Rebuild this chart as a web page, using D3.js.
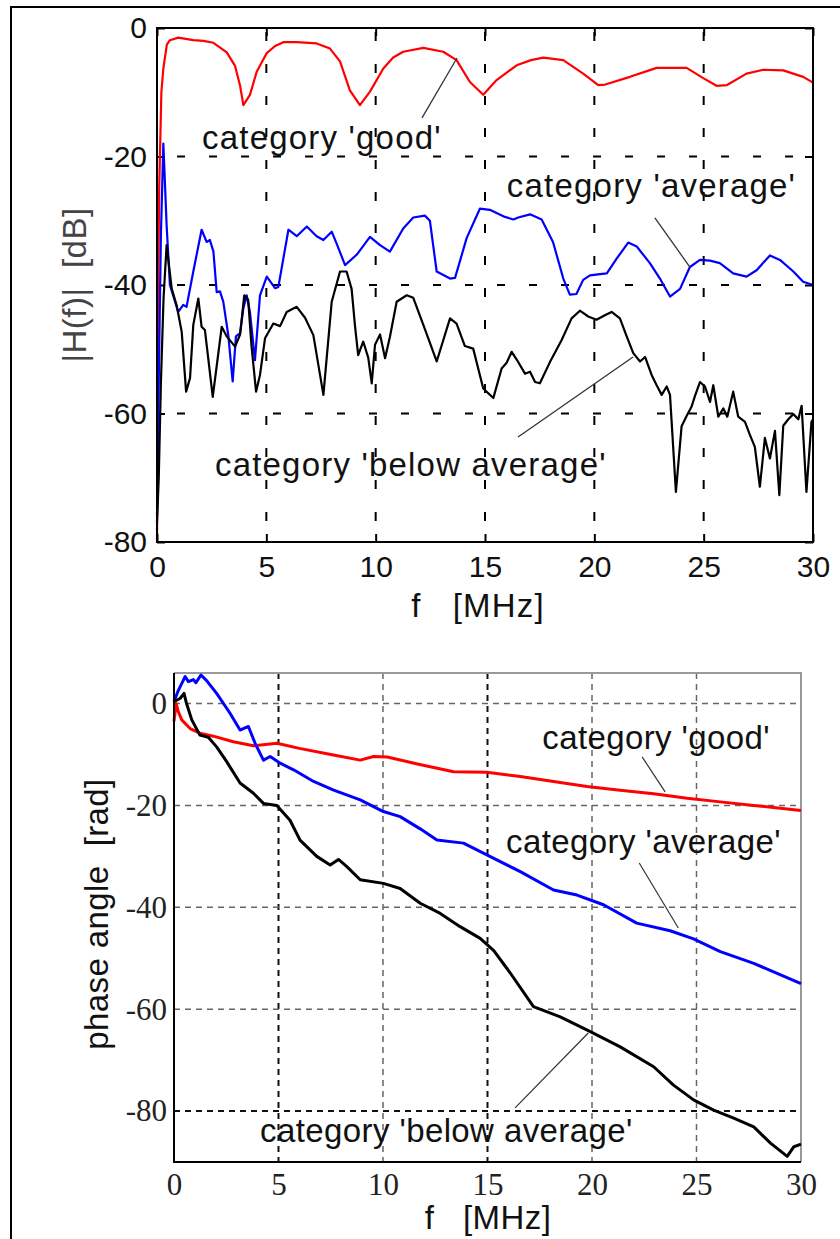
<!DOCTYPE html>
<html><head><meta charset="utf-8">
<script src="https://cdn.jsdelivr.net/npm/d3@7"></script>
<style>body{margin:0;background:#fff;} svg{display:block}</style>
</head><body>
<svg id="c" width="840" height="1239"></svg>
<script>
// ---------- DATA ----------
const xTickValues = [0, 5, 10, 15, 20, 25, 30];
const magTickValues = [0, -20, -40, -60, -80];
const phaseTickValues = [0, -20, -40, -60, -80];
const seriesNames = ["category 'good'", "category 'average'", "category 'below average'"];

// |H(f)| [dB] vs f [MHz]
const magGood = [[0,-80],[0.04,-45],[0.1,-25],[0.2,-10],[0.29,-6.3],[0.45,-2.6],[0.59,-1.9],[0.97,-1.5],[1.66,-1.9],[2.12,-2.0],[2.58,-2.3],[3.19,-3.8],[3.57,-5.9],[3.8,-9],[3.95,-12.0],[4.25,-10.4],[4.56,-6.8],[5.02,-3.9],[5.4,-2.8],[5.78,-2.2],[6.39,-2.2],[7.30,-2.4],[7.91,-3.2],[8.37,-5.2],[8.82,-9.7],[9.28,-12.0],[9.74,-9.9],[10.35,-6.3],[10.8,-4.6],[11.26,-3.7],[12.18,-3.1],[13.09,-3.7],[13.70,-5.0],[14.31,-8.4],[14.92,-10.4],[15.53,-8.1],[16.45,-5.8],[17.1,-5.0],[17.66,-4.6],[18.58,-5.0],[19.49,-7.1],[20.18,-8.9],[20.5,-8.8],[21.63,-7.6],[22.85,-6.2],[24.22,-6.2],[24.98,-7.8],[25.59,-9.0],[26.05,-8.9],[26.96,-7.1],[27.73,-6.5],[28.64,-6.6],[29.55,-7.6],[30,-8.5]];
const magAverage = [[0,-76],[0.08,-55],[0.18,-32],[0.29,-18],[0.44,-30.7],[0.59,-40],[0.97,-44.2],[1.2,-43.1],[1.35,-43.4],[1.66,-37.9],[2.04,-31.4],[2.27,-33.3],[2.42,-33.0],[2.58,-34.8],[2.73,-41.1],[2.88,-41.0],[3.03,-42.6],[3.26,-47.8],[3.46,-55.0],[3.61,-48.0],[3.8,-47.5],[3.95,-43.6],[4.1,-41.6],[4.25,-44.2],[4.48,-51.7],[4.71,-41.6],[5.02,-38.7],[5.4,-40.5],[5.55,-40.3],[6.01,-31.4],[6.39,-32.4],[6.85,-30.9],[7.3,-32.4],[7.61,-33.0],[7.99,-31.7],[8.22,-33.6],[8.6,-36.9],[9.13,-35.3],[9.74,-32.5],[10.2,-33.8],[10.65,-34.8],[11.26,-31.2],[11.72,-29.5],[12.25,-29.2],[12.48,-30.0],[12.79,-37.9],[13.4,-39.0],[13.63,-38.9],[14.16,-32.7],[14.77,-28.1],[15.22,-28.3],[15.91,-29.4],[16.3,-29.8],[16.52,-29.5],[17.06,-29.0],[17.59,-29.8],[18.11,-33.3],[18.58,-39.0],[18.88,-41.5],[19.18,-41.4],[19.49,-39.2],[19.8,-38.5],[20.26,-38.3],[20.57,-38.2],[21.02,-35.9],[21.55,-33.4],[21.94,-34.0],[22.54,-36.6],[23.0,-39.0],[23.46,-41.8],[23.92,-40.6],[24.37,-37.2],[24.83,-36.1],[25.29,-36.2],[25.74,-36.6],[26.35,-38.2],[26.96,-38.7],[27.42,-37.7],[28.03,-35.4],[28.49,-36.1],[29.1,-37.9],[29.55,-39.5],[30,-40.0]];
const magBelow = [[0,-77],[0.08,-70],[0.18,-55],[0.3,-42],[0.44,-33.8],[0.67,-40.5],[0.9,-43.2],[1.13,-47.3],[1.33,-56.6],[1.51,-54.5],[1.66,-46.2],[1.89,-42.1],[2.04,-46.5],[2.19,-47.0],[2.55,-57.4],[2.96,-46.5],[3.19,-48.0],[3.57,-49.6],[3.8,-47.7],[3.99,-41.6],[4.17,-42.3],[4.32,-49.4],[4.53,-56.6],[4.71,-54.0],[4.94,-48.3],[5.32,-46.0],[5.63,-46.4],[5.93,-44.2],[6.39,-43.4],[6.77,-45.1],[7.15,-47.8],[7.61,-57.1],[7.99,-42.6],[8.37,-37.9],[8.67,-37.9],[8.9,-40.6],[9.05,-46.2],[9.2,-50.9],[9.43,-48.8],[9.66,-51.3],[9.82,-55.3],[9.97,-49.3],[10.2,-47.7],[10.43,-51.4],[10.65,-48.1],[10.96,-42.6],[11.42,-41.6],[11.72,-42.0],[12.18,-46.2],[12.79,-51.9],[13.4,-45.2],[13.7,-46.0],[14.08,-49.5],[14.46,-49.9],[14.92,-56.1],[15.38,-57.6],[15.76,-53.0],[15.99,-52.1],[16.22,-50.4],[16.45,-51.6],[16.83,-53.8],[17.06,-53.5],[17.29,-55.1],[17.51,-55.3],[17.97,-52.0],[18.5,-48.6],[18.96,-45.2],[19.34,-44.0],[19.72,-44.9],[20.1,-45.4],[20.48,-44.7],[20.79,-44.2],[21.17,-45.2],[21.48,-48.0],[21.78,-50.6],[22.09,-51.9],[22.32,-51.2],[22.62,-54.0],[22.85,-55.6],[23.08,-57.1],[23.31,-55.8],[23.46,-57.1],[23.73,-72.2],[23.99,-62.0],[24.22,-60.4],[24.45,-58.9],[24.6,-57.3],[24.83,-55.1],[25.06,-55.8],[25.29,-58.2],[25.44,-55.6],[25.67,-60.5],[25.9,-59.2],[26.08,-60.5],[26.35,-56.6],[26.58,-60.5],[26.89,-61.3],[27.11,-63.3],[27.34,-65.2],[27.57,-71.4],[27.8,-63.8],[28.03,-67.0],[28.26,-62.7],[28.46,-72.7],[28.64,-61.9],[28.87,-60.9],[29.1,-60.1],[29.33,-60.9],[29.48,-58.8],[29.7,-72.2],[29.93,-61.3],[30,-60.9]];

// phase angle [rad] vs f [MHz]
const phaseGood = [[0,-3.5],[0.1,0],[0.2,-1.5],[0.37,-3.2],[0.77,-4.9],[1.24,-5.8],[1.88,-6.4],[2.84,-7.5],[3.8,-8.3],[4.92,-7.8],[6.0,-8.8],[7.63,-10.1],[8.91,-11.1],[9.55,-10.4],[10.2,-10.5],[11.7,-11.9],[13.38,-13.4],[14.97,-13.5],[16.57,-14.3],[18.16,-15.3],[19.76,-16.3],[21.35,-17.0],[22.95,-17.7],[24.55,-18.6],[26.14,-19.3],[27.74,-20.0],[30,-21.0]];
const phaseAverage = [[0,0.4],[0.2,2.5],[0.53,5.3],[0.69,4.3],[0.93,4.7],[1.05,4.1],[1.29,5.6],[1.56,4.5],[2.04,2.0],[2.68,-1.9],[3.16,-5.2],[3.56,-4.5],[3.88,-7.8],[4.28,-11.1],[4.6,-10.4],[5.08,-11.7],[5.72,-13.0],[6.68,-15.3],[7.64,-17.0],[8.91,-18.9],[10.02,-21.2],[10.82,-22.2],[11.78,-24.6],[12.58,-26.8],[13.85,-27.4],[14.97,-29.7],[16.57,-33.0],[18.16,-36.6],[19.28,-37.6],[20.55,-39.5],[22.14,-43.1],[23.74,-44.6],[24.86,-46.2],[26.14,-48.7],[27.74,-51.0],[30,-55.0]];
const phaseBelow = [[0,0.4],[0.29,1.0],[0.48,2.0],[0.6,0],[0.85,-3.2],[1.24,-6.2],[1.64,-6.6],[2.04,-8.5],[2.52,-11.4],[3.16,-15.6],[3.8,-17.6],[4.28,-19.6],[4.92,-20.0],[5.55,-22.9],[6.03,-26.8],[6.83,-30.0],[7.47,-31.7],[7.87,-30.6],[8.27,-32.0],[8.91,-34.6],[10.02,-35.3],[10.82,-36.3],[11.78,-39.2],[12.74,-41.2],[13.69,-43.8],[14.65,-46.1],[15.3,-48.5],[16.09,-52.9],[17.2,-59.5],[18.48,-61.5],[19.92,-64.4],[21.35,-67.4],[22.95,-71.3],[23.9,-74.9],[24.86,-77.8],[25.82,-79.8],[26.78,-81.4],[27.74,-83.1],[28.54,-86.3],[29.34,-88.9],[29.66,-87.0],[30,-86.5]];

// annotation anchors (data units): text start, leader line from -> to
const magNotes = [
  {text: seriesNames[0], at: [2.06, -18.8], line: [[12.12,-14.0],[13.72,-4.67]]},
  {text: seriesNames[1], at: [16.0, -26.3], line: [[22.77,-29.57],[24.37,-37.2]]},
  {text: seriesNames[2], at: [2.65, -69.7], line: [[16.51,-63.66],[21.77,-51.2]]}
];
const phaseNotes = [
  {text: seriesNames[0], at: [17.62, -8.9], line: [[22.40,-10.48],[23.50,-17.35]]},
  {text: seriesNames[1], at: [15.89, -29.3], line: [[22.26,-31.29],[24.13,-44.05]]},
  {text: seriesNames[2], at: [4.12, -86.1], line: [[16.32,-79.39],[19.82,-64.67]]}
];

// ---------- DRAW ----------
const svg = d3.select("#c");
const SANS = "'Liberation Sans', Arial, sans-serif";
const SERIF = "'Liberation Serif', 'Times New Roman', serif";
const colors = ["#ff0000", "#0000ff", "#000000"];

// outer frame (top and left)
svg.append("path").attr("d", "M11,1239V7H840").attr("fill", "none").attr("stroke", "#000").attr("stroke-width", 2);

// ===== Top chart: magnitude =====
const T = {l: 157, r: 813, t: 28, b: 542};
const xT = d3.scaleLinear().domain([0, 30]).range([T.l, T.r]);
const yT = d3.scaleLinear().domain([-80, 0]).range([T.b, T.t]);
const gT = svg.append("g");

// grid
gT.selectAll(".vg").data(xTickValues.slice(1, -1)).join("line")
  .attr("x1", d => xT(d)).attr("x2", d => xT(d)).attr("y1", T.t).attr("y2", T.b)
  .attr("stroke", "#000").attr("stroke-width", 2).attr("stroke-dasharray", "9,23").attr("stroke-dashoffset", -4);
gT.selectAll(".hg").data(magTickValues.slice(1, -1)).join("line")
  .attr("y1", d => yT(d)).attr("y2", d => yT(d)).attr("x1", T.l).attr("x2", T.r)
  .attr("stroke", "#000").attr("stroke-width", 2).attr("stroke-dasharray", "8,24").attr("stroke-dashoffset", -20);

function styleAxis(g, font, size, color) {
  g.select(".domain").remove();
  g.selectAll(".tick line").attr("stroke", "#000").attr("stroke-width", 2);
  g.selectAll(".tick text").attr("font-family", font).attr("font-size", size).attr("fill", color || "#000")
    .text(function(){ return this.textContent.replace("\u2212", "-"); });
}
gT.append("g").attr("transform", `translate(0,${T.b})`)
  .call(d3.axisBottom(xT).tickValues(xTickValues).tickFormat(d3.format("d")).tickSizeInner(-8).tickSizeOuter(0).tickPadding(14))
  .call(g => styleAxis(g, SANS, 30, "#111"));
gT.append("g").attr("transform", `translate(0,${T.t})`)
  .call(d3.axisTop(xT).tickValues(xTickValues).tickFormat("").tickSizeInner(-8).tickSizeOuter(0))
  .call(g => styleAxis(g, SANS, 30));
gT.append("g").attr("transform", `translate(${T.l},0)`)
  .call(d3.axisLeft(yT).tickValues(magTickValues).tickFormat(d3.format("d")).tickSizeInner(-8).tickSizeOuter(0).tickPadding(10))
  .call(g => styleAxis(g, SANS, 30, "#111"));
gT.append("g").attr("transform", `translate(${T.r},0)`)
  .call(d3.axisRight(yT).tickValues(magTickValues).tickFormat("").tickSizeInner(-8).tickSizeOuter(0))
  .call(g => styleAxis(g, SANS, 30));

// curves
const lineT = d3.line().x(d => xT(d[0])).y(d => yT(d[1]));
[magGood, magAverage, magBelow].forEach((s, i) => {
  gT.append("path").datum(s).attr("d", lineT).attr("fill", "none")
    .attr("stroke", colors[i]).attr("stroke-width", 2.2).attr("stroke-linejoin", "round");
});
// box
gT.append("rect").attr("x", T.l).attr("y", T.t).attr("width", T.r - T.l).attr("height", T.b - T.t)
  .attr("fill", "none").attr("stroke", "#000").attr("stroke-width", 2);

// annotations
magNotes.forEach(n => {
  gT.append("line").attr("x1", xT(n.line[0][0])).attr("y1", yT(n.line[0][1]))
    .attr("x2", xT(n.line[1][0])).attr("y2", yT(n.line[1][1]))
    .attr("stroke", "#333").attr("stroke-width", 1.3);
  gT.append("text").attr("x", xT(n.at[0])).attr("y", yT(n.at[1])).text(n.text)
    .attr("font-family", SANS).attr("font-size", 33).attr("letter-spacing", 1.2).attr("fill", "#111");
});
// axis labels
gT.append("text").attr("x", 478).attr("y", 617).attr("text-anchor", "middle")
  .style("white-space", "pre").attr("font-family", SANS).attr("font-size", 33).attr("letter-spacing", 1.2).attr("fill", "#111")
  .text("f   [MHz]");
gT.append("text").attr("transform", "translate(86,285) rotate(-90)").attr("text-anchor", "middle")
  .style("white-space", "pre").attr("font-family", SANS).attr("font-size", 33).attr("letter-spacing", 0.5).attr("fill", "#444")
  .text("|H(f)|  [dB]");

// ===== Bottom chart: phase =====
const B = {l: 174, r: 801, t: 673, b: 1162};
const xB = d3.scaleLinear().domain([0, 30]).range([B.l, B.r]);
const yB = d3.scaleLinear().domain([-90, 6]).range([B.b, B.t]);
const gB = svg.append("g");

const darkX = [5, 15], darkY = [-80];
gB.selectAll(".vg").data(xTickValues.slice(1, -1)).join("line")
  .attr("x1", d => xB(d)).attr("x2", d => xB(d)).attr("y1", B.t).attr("y2", B.b)
  .attr("stroke", d => darkX.includes(d) ? "#111" : "#666")
  .attr("stroke-width", d => darkX.includes(d) ? 2 : 1.5).attr("stroke-dasharray", "6,5");
gB.selectAll(".hg").data(phaseTickValues).join("line")
  .attr("y1", d => yB(d)).attr("y2", d => yB(d)).attr("x1", B.l).attr("x2", B.r)
  .attr("stroke", d => darkY.includes(d) ? "#111" : "#666")
  .attr("stroke-width", d => darkY.includes(d) ? 2 : 1.5).attr("stroke-dasharray", "6,5");

gB.append("g").attr("transform", `translate(0,${B.b})`)
  .call(d3.axisBottom(xB).tickValues(xTickValues).tickFormat(d3.format("d")).tickSize(0).tickPadding(11))
  .call(g => styleAxis(g, SERIF, 31, "#222"));
gB.append("g").attr("transform", `translate(${B.l},0)`)
  .call(d3.axisLeft(yB).tickValues(phaseTickValues).tickFormat(d3.format("d")).tickSize(0).tickPadding(7))
  .call(g => styleAxis(g, SERIF, 31, "#222"));

// frame: gray top/right, black left/bottom
gB.append("path").attr("d", `M${B.l},${B.t}H${B.r}V${B.b}`).attr("fill", "none").attr("stroke", "#999").attr("stroke-width", 2);

const lineB = d3.line().x(d => xB(d[0])).y(d => yB(d[1]));
[phaseGood, phaseAverage, phaseBelow].forEach((s, i) => {
  gB.append("path").datum(s).attr("d", lineB).attr("fill", "none")
    .attr("stroke", colors[i]).attr("stroke-width", 3).attr("stroke-linejoin", "round");
});
gB.append("path").attr("d", `M${B.l},${B.t}V${B.b}H${B.r}`).attr("fill", "none").attr("stroke", "#000").attr("stroke-width", 2);

phaseNotes.forEach(n => {
  gB.append("line").attr("x1", xB(n.line[0][0])).attr("y1", yB(n.line[0][1]))
    .attr("x2", xB(n.line[1][0])).attr("y2", yB(n.line[1][1]))
    .attr("stroke", "#333").attr("stroke-width", 1.2);
  gB.append("text").attr("x", xB(n.at[0])).attr("y", yB(n.at[1])).text(n.text)
    .attr("font-family", SANS).attr("font-size", 33).attr("letter-spacing", 0.4).attr("fill", "#111");
});
gB.append("text").attr("x", 488).attr("y", 1229).attr("text-anchor", "middle")
  .style("white-space", "pre").attr("font-family", SANS).attr("font-size", 33).attr("letter-spacing", 0.4).attr("fill", "#111")
  .text("f   [MHz]");
gB.append("text").attr("transform", "translate(108,914) rotate(-90)").attr("text-anchor", "middle")
  .style("white-space", "pre").attr("font-family", SANS).attr("font-size", 33).attr("letter-spacing", 0.4).attr("fill", "#111")
  .text("phase angle  [rad]");
</script>
</body></html>
